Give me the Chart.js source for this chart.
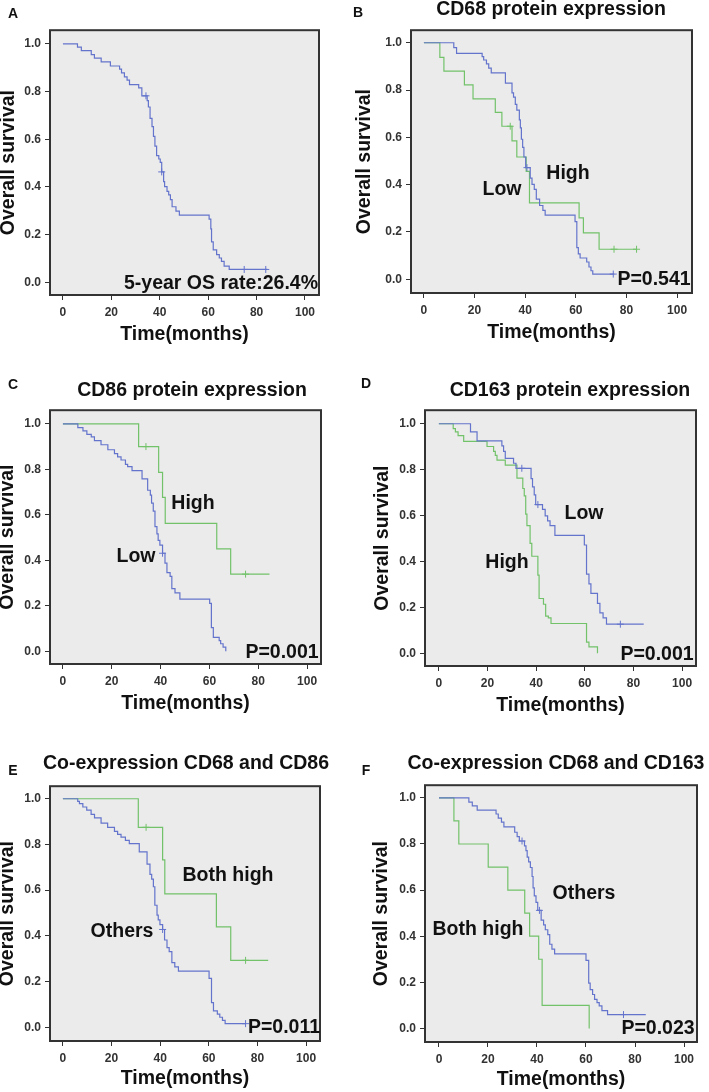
<!DOCTYPE html>
<html>
<head>
<meta charset="utf-8">
<script src="https://cdn.jsdelivr.net/npm/chart.js@4.4.1/dist/chart.umd.min.js"></script>
<style>
  body { margin: 0; background: #fff; }
  #page { position: relative; width: 709px; height: 1092px; overflow: hidden; font-family: 'Liberation Sans', Arial, sans-serif; }
  #page canvas { position: absolute; }
  .txt { position: absolute; transform: translate(-50%, -50%); white-space: nowrap; font-weight: bold; line-height: 1; color: #111; }
  .big { font-size: 19.5px; }
  .letter { font-size: 14px; }
</style>
</head>
<body>
<div id="page"></div>
<script>
// ---- data ----
const X_TICKS = [0, 20, 40, 60, 80, 100];
const Y_TICKS = [0, 0.2, 0.4, 0.6, 0.8, 1.0];

// A: whole cohort
const A_TIME = [6, 7.6, 11.7, 13, 15.8, 19.6, 23.4, 24.2, 25.4, 26.5, 27.5, 31.3, 32.6, 34.8, 35.3, 36, 36.8, 37.4, 38, 38.7,
                39.6, 40.2, 40.8, 41.6, 42, 43, 43.7, 44.4, 45.1, 46.7, 48.1, 60.4, 61.1, 61.4, 62.1, 63.5, 64.6, 65.5, 66.6, 68.7];
const A_SURV = [0.986, 0.971, 0.955, 0.94, 0.924, 0.907, 0.894, 0.878, 0.861, 0.848, 0.829, 0.815, 0.782, 0.762, 0.735, 0.687, 0.653, 0.612, 0.571, 0.531,
                0.517, 0.503, 0.463, 0.422, 0.401, 0.381, 0.367, 0.347, 0.317, 0.299, 0.282, 0.265, 0.224, 0.170, 0.136, 0.116, 0.102, 0.088, 0.068, 0.054];
const A_CENS = [34.3, 40.8, 74.9, 83.8];
const A_END = 84.5;

// B: CD68 (blue = low, green = high)
const B_LOW_TIME = [11.8, 12.9, 23.0, 23.6, 24.7, 25.6, 26.6, 32.2, 34.8, 35.4, 36.1, 36.7, 37.7, 38.1, 38.5, 39.0, 39.5,
                    40.2, 42.0, 42.7, 43.6, 44.4, 45.7, 47.0, 47.9, 59.7, 60.4, 61.0, 61.7, 64.3, 65.2, 66.0, 66.7];
const B_LOW_SURV = [0.979, 0.955, 0.941, 0.927, 0.911, 0.893, 0.873, 0.829, 0.788, 0.770, 0.739, 0.715, 0.674, 0.640, 0.592, 0.558, 0.517,
                    0.472, 0.428, 0.401, 0.380, 0.339, 0.312, 0.291, 0.271, 0.244, 0.134, 0.107, 0.090, 0.073, 0.052, 0.036, 0.022];
const B_LOW_CENS = [40.7, 74.8];
const B_LOW_END = 75.2;
const B_HIGH_TIME = [6.3, 7.9, 16.0, 19.4, 28.2, 30.8, 34.8, 36.7, 40.4, 41.7, 61.3, 63.0, 69.2];
const B_HIGH_SURV = [0.938, 0.880, 0.822, 0.763, 0.706, 0.647, 0.585, 0.517, 0.456, 0.323, 0.260, 0.196, 0.127];
const B_HIGH_CENS = [34.1, 75.1, 84.0];
const B_HIGH_END = 84.0;

// C: CD86
const C_LOW_TIME = [6.1, 8.2, 9.8, 11.6, 12.9, 15.6, 18.4, 21.1, 22.4, 23.8, 25.6, 26.5, 28.3, 32.4, 34.7, 35.8, 36.3, 37.0,
                    37.7, 38.5, 39.0, 39.7, 40.8, 41.8, 42.6, 43.9, 44.6, 45.9, 47.9, 60.1, 60.8, 61.6, 64.0, 64.6, 65.6, 66.7];
const C_LOW_SURV = [0.983, 0.969, 0.954, 0.943, 0.926, 0.908, 0.886, 0.869, 0.855, 0.841, 0.822, 0.812, 0.794, 0.758, 0.708, 0.687, 0.651, 0.616,
                    0.548, 0.516, 0.488, 0.467, 0.431, 0.388, 0.346, 0.329, 0.275, 0.257, 0.229, 0.211, 0.104, 0.061, 0.047, 0.033, 0.018, 0];
const C_LOW_CENS = [40.8];
const C_LOW_END = 66.7;
const C_HIGH_TIME = [31.0, 39.2, 40.8, 41.9, 63.0, 68.7];
const C_HIGH_SURV = [0.900, 0.787, 0.677, 0.562, 0.450, 0.339];
const C_HIGH_CENS = [34.0, 74.8];
const C_HIGH_END = 84.6;

// D: CD163
const D_LOW_TIME = [13.0, 15.7, 25.9, 26.6, 27.3, 30.7, 31.7, 37.9, 38.5, 39.2, 39.8, 42.6, 43.7, 44.7, 45.7, 47.7,
                    59.8, 60.7, 61.7, 62.5, 65.2, 66.2, 67.5, 68.9];
const D_LOW_SURV = [0.965, 0.925, 0.904, 0.880, 0.849, 0.828, 0.806, 0.761, 0.725, 0.690, 0.648, 0.627, 0.599, 0.577, 0.556, 0.514,
                    0.472, 0.345, 0.303, 0.261, 0.218, 0.176, 0.155, 0.127];
const D_LOW_CENS = [34.1, 40.7, 74.6];
const D_LOW_END = 84.2;
const D_HIGH_TIME = [5.9, 6.8, 7.9, 10.2, 19.8, 22.5, 23.2, 23.9, 27.3, 32.1, 34.5, 35.1, 35.7, 36.2, 37.5, 38.2,
                     40.7, 41.2, 43.0, 43.9, 45.0, 46.1, 60.7, 61.7, 65.2];
const D_HIGH_SURV = [0.979, 0.965, 0.948, 0.923, 0.901, 0.880, 0.862, 0.842, 0.820, 0.763, 0.718, 0.686, 0.606, 0.556, 0.479, 0.423,
                     0.341, 0.239, 0.214, 0.162, 0.155, 0.130, 0.049, 0.028, 0];
const D_HIGH_CENS = [];
const D_HIGH_END = 65.2;

// E: CD68 + CD86 (blue = others, green = both high)
const E_OTH_TIME = [6.1, 6.8, 8.2, 9.8, 11.6, 13.0, 15.7, 18.4, 21.2, 22.5, 23.9, 25.7, 27.3, 31.4, 34.6, 35.8, 36.5, 37.2, 37.8,
                    38.7, 39.2, 39.9, 41.0, 41.8, 42.8, 43.7, 44.8, 46.0, 47.5, 60.1, 61.1, 61.9, 63.5, 64.5, 65.6, 66.7];
const E_OTH_SURV = [0.989, 0.979, 0.964, 0.950, 0.932, 0.916, 0.893, 0.875, 0.857, 0.844, 0.832, 0.818, 0.804, 0.768, 0.714, 0.669, 0.648, 0.615, 0.534,
                    0.491, 0.470, 0.449, 0.428, 0.382, 0.349, 0.331, 0.283, 0.264, 0.246, 0.214, 0.108, 0.072, 0.058, 0.044, 0.030, 0.016];
const E_OTH_CENS = [41.0, 75.1];
const E_OTH_END = 75.1;
const E_BOTH_TIME = [31.0, 41.0, 41.9, 63.1, 69.0];
const E_BOTH_SURV = [0.875, 0.733, 0.584, 0.439, 0.293];
const E_BOTH_CENS = [34.2, 75.1];
const E_BOTH_END = 84.4;

// F: CD68 + CD163
const F_OTH_TIME = [12.2, 13.6, 15.6, 23.3, 24.2, 25.5, 26.5, 30.9, 31.9, 32.8, 34.9, 35.5, 36.0, 36.6, 37.3, 38.0, 38.4, 38.9, 39.6,
                    40.3, 41.7, 42.7, 43.4, 44.4, 45.2, 46.1, 47.2, 60.0, 61.1, 61.7, 62.7, 63.5, 64.5, 65.4, 66.5, 68.8];
const F_OTH_SURV = [0.982, 0.965, 0.947, 0.930, 0.912, 0.895, 0.874, 0.851, 0.832, 0.813, 0.792, 0.771, 0.743, 0.722, 0.698, 0.659, 0.610, 0.575, 0.547,
                    0.512, 0.470, 0.449, 0.428, 0.407, 0.365, 0.344, 0.323, 0.295, 0.196, 0.168, 0.147, 0.126, 0.112, 0.098, 0.077, 0.060];
const F_OTH_CENS = [33.9, 41.0, 75.3];
const F_OTH_END = 84.4;
const F_BOTH_TIME = [6.1, 8.1, 20.1, 28.1, 35.0, 37.0, 40.7, 42.1, 61.3];
const F_BOTH_SURV = [0.90, 0.80, 0.70, 0.60, 0.50, 0.40, 0.30, 0.10, 0];
const F_BOTH_CENS = [];
const F_BOTH_END = 61.3;

// ---- styling ----
const BLUE = '#6474cc';
const GREEN = '#72c26a';
const PLOT_BG = '#ebebeb';
const FRAME = '#333333';
const FONT = "'Liberation Sans', Arial, sans-serif";
const TICK_FONT = { family: FONT, size: 12, weight: 'bold' };
const TITLE_FONT = { family: FONT, size: 19.5, weight: 'bold' };

function kmPoints(times, surv, end) {
  const pts = [{ x: 0, y: 1 }];
  times.forEach((t, i) => pts.push({ x: t, y: surv[i] }));
  if (end > times[times.length - 1]) pts.push({ x: end, y: surv[surv.length - 1] });
  return pts;
}

function survAt(times, surv, t) {
  let s = 1;
  times.forEach((ti, i) => { if (ti <= t) s = surv[i]; });
  return s;
}

// chart.js 'before' = run flat to the next time, then drop
function curve(times, surv, cens, end, color) {
  return [
    { type: 'line', data: kmPoints(times, surv, end), borderColor: color, borderWidth: 1.2,
      stepped: 'before', pointRadius: 0, fill: false },
    { type: 'scatter', data: cens.map(t => ({ x: t, y: survAt(times, surv, t) })),
      borderColor: color, backgroundColor: color, pointStyle: 'cross', pointRadius: 3.5, borderWidth: 1 }
  ];
}

// grey plot area + dark frame
const framePlugin = {
  id: 'frame',
  beforeDraw(chart) {
    const { ctx, chartArea: a } = chart;
    ctx.save();
    ctx.fillStyle = PLOT_BG;
    ctx.fillRect(a.left, a.top, a.width, a.height);
    ctx.restore();
  },
  afterDraw(chart) {
    const { ctx, chartArea: a } = chart;
    ctx.save();
    ctx.strokeStyle = FRAME;
    ctx.lineWidth = 2;
    ctx.strokeRect(a.left, a.top, a.width, a.height);
    ctx.restore();
  }
};

const page = document.getElementById('page');

function addText(str, x, y, cls) {
  const d = document.createElement('div');
  d.className = 'txt ' + cls;
  d.textContent = str;
  d.style.left = x + 'px';
  d.style.top = y + 'px';
  page.appendChild(d);
}

// panel geometry: box = [left, top, right, bottom] of the framed plot area
const PANELS = [
  { letter: 'A', lx: 13, ly: 13, title: null,
    box: [50, 23, 320, 295], xr: [-5.35, 105.8], yr: [-0.053, 1.057], yTitleX: 9, xTitleY: 334,
    series: [[A_TIME, A_SURV, A_CENS, A_END, BLUE]],
    notes: [['5-year OS rate:26.4%', 221, 283]] },
  { letter: 'B', lx: 358, ly: 12, title: ['CD68 protein expression', 551, 9],
    box: [411, 23, 693, 293], xr: [-5.1, 105.9], yr: [-0.058, 1.053], yTitleX: 365, xTitleY: 332,
    series: [[B_LOW_TIME, B_LOW_SURV, B_LOW_CENS, B_LOW_END, BLUE], [B_HIGH_TIME, B_HIGH_SURV, B_HIGH_CENS, B_HIGH_END, GREEN]],
    notes: [['High', 568, 173], ['Low', 502, 189], ['P=0.541', 654, 279]] },
  { letter: 'C', lx: 13, ly: 384, title: ['CD86 protein expression', 192, 390],
    box: [50, 403, 322, 664], xr: [-5.3, 105.7], yr: [-0.056, 1.06], yTitleX: 8, xTitleY: 703,
    series: [[C_LOW_TIME, C_LOW_SURV, C_LOW_CENS, C_LOW_END, BLUE], [C_HIGH_TIME, C_HIGH_SURV, C_HIGH_CENS, C_HIGH_END, GREEN]],
    notes: [['High', 193, 503], ['Low', 136, 556], ['P=0.001', 282, 652]] },
  { letter: 'D', lx: 366, ly: 383, title: ['CD163 protein expression', 570, 390],
    box: [425, 403, 697, 666], xr: [-5.7, 105.7], yr: [-0.055, 1.059], yTitleX: 383, xTitleY: 705,
    series: [[D_LOW_TIME, D_LOW_SURV, D_LOW_CENS, D_LOW_END, BLUE], [D_HIGH_TIME, D_HIGH_SURV, D_HIGH_CENS, D_HIGH_END, GREEN]],
    notes: [['Low', 584, 513], ['High', 507, 562], ['P=0.001', 657, 654]] },
  { letter: 'E', lx: 13, ly: 770, title: ['Co-expression CD68 and CD86', 186, 763],
    box: [50, 779, 321, 1041], xr: [-5.3, 105.7], yr: [-0.06, 1.055], yTitleX: 8, xTitleY: 1078,
    series: [[E_OTH_TIME, E_OTH_SURV, E_OTH_CENS, E_OTH_END, BLUE], [E_BOTH_TIME, E_BOTH_SURV, E_BOTH_CENS, E_BOTH_END, GREEN]],
    notes: [['Both high', 228, 875], ['Others', 122, 931], ['P=0.011', 284, 1027]] },
  { letter: 'F', lx: 366, ly: 770, title: ['Co-expression CD68 and CD163', 556, 763],
    box: [425, 778, 698, 1042], xr: [-5.7, 105.3], yr: [-0.059, 1.055], yTitleX: 382, xTitleY: 1079,
    series: [[F_OTH_TIME, F_OTH_SURV, F_OTH_CENS, F_OTH_END, BLUE], [F_BOTH_TIME, F_BOTH_SURV, F_BOTH_CENS, F_BOTH_END, GREEN]],
    notes: [['Others', 584, 893], ['Both high', 478, 929], ['P=0.023', 658, 1028]] }
];

const PAD = 4;

PANELS.forEach(p => {
  const [bl, bt, br, bb] = p.box;
  const left = p.yTitleX - 12;
  const top = bt - PAD;
  const bottom = p.xTitleY + 12;
  const cv = document.createElement('canvas');
  cv.width = br + PAD - left;
  cv.height = bottom - top;
  cv.style.left = left + 'px';
  cv.style.top = top + 'px';
  page.appendChild(cv);

  const datasets = [];
  p.series.forEach(s => datasets.push(...curve(...s)));

  new Chart(cv, {
    data: { datasets },
    options: {
      responsive: false,
      animation: false,
      events: [],
      layout: { padding: { top: PAD, right: PAD, bottom: 0, left: 0 } },
      plugins: { legend: { display: false }, tooltip: { enabled: false } },
      scales: {
        x: {
          type: 'linear', min: p.xr[0], max: p.xr[1],
          afterBuildTicks: s => { s.ticks = X_TICKS.map(v => ({ value: v })); },
          afterFit: s => { s.height = bottom - bb; },
          ticks: { font: TICK_FONT, color: '#333', padding: 5, maxRotation: 0, autoSkip: false, callback: v => String(v) },
          grid: { drawOnChartArea: false, drawTicks: true, tickLength: 5, color: FRAME, lineWidth: 1 },
          border: { display: false },
          title: { display: true, text: 'Time(months)', font: TITLE_FONT, color: '#111', padding: 0 }
        },
        y: {
          type: 'linear', min: p.yr[0], max: p.yr[1],
          afterBuildTicks: s => { s.ticks = Y_TICKS.map(v => ({ value: v })); },
          afterFit: s => { s.width = bl - left; },
          ticks: { font: TICK_FONT, color: '#333', padding: 4, autoSkip: false, callback: v => v.toFixed(1) },
          grid: { drawOnChartArea: false, drawTicks: true, tickLength: 5, color: FRAME, lineWidth: 1 },
          border: { display: false },
          title: { display: true, text: 'Overall survival', font: TITLE_FONT, color: '#111', padding: 0 }
        }
      }
    },
    plugins: [framePlugin]
  });

  addText(p.letter, p.lx, p.ly, 'letter');
  if (p.title) addText(p.title[0], p.title[1], p.title[2], 'big');
  p.notes.forEach(n => addText(n[0], n[1], n[2], 'big'));
});
</script>
</body>
</html>
